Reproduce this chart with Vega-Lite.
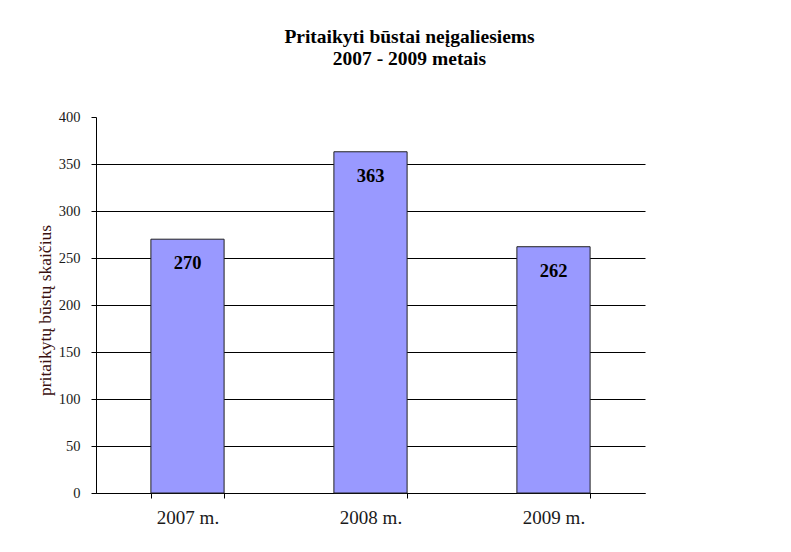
{
  "$schema": "https://vega.github.io/schema/vega-lite/v6.json",
  "width": 549,
  "height": 376,
  "autosize": {"type": "none"},
  "padding": {"left": 96, "top": 117, "right": 146, "bottom": 59},
  "background": "white",
  "config": {
    "view": {"stroke": null},
    "font": "Liberation Serif"
  },
  "title": {
    "text": ["Pritaikyti būstai neįgaliesiems", "2007 - 2009 metais"],
    "font": "Liberation Serif",
    "fontSize": 19.5,
    "fontWeight": "bold",
    "color": "black",
    "anchor": "middle",
    "frame": "group",
    "dx": 39,
    "offset": 40,
    "lineHeight": 22
  },
  "data": {
    "values": [
      {"metai": "2007 m.", "skaicius": 270},
      {"metai": "2008 m.", "skaicius": 363},
      {"metai": "2009 m.", "skaicius": 262}
    ]
  },
  "encoding": {
    "x": {
      "field": "metai",
      "type": "nominal",
      "sort": null,
      "scale": {"paddingInner": 0.6, "paddingOuter": 0.3},
      "axis": {
        "title": null,
        "labelAngle": 0,
        "tickBand": "extent",
        "domainColor": "black",
        "tickColor": "black",
        "tickSize": 5,
        "labelPadding": 10,
        "labelFont": "Liberation Serif",
        "labelFontSize": 19,
        "labelColor": "#1a1a1a"
      }
    },
    "y": {
      "field": "skaicius",
      "type": "quantitative",
      "scale": {"domain": [0, 400], "nice": false},
      "axis": {
        "values": [0, 50, 100, 150, 200, 250, 300, 350, 400],
        "title": "pritaikytų būstų skaičius",
        "titleFont": "Liberation Serif",
        "titleFontSize": 17.5,
        "titleFontWeight": "normal",
        "titleColor": "#3a1010",
        "titleX": -51,
        "titleY": 193,
        "titleAngle": -90,
        "titleAlign": "center",
        "titleBaseline": "middle",
        "grid": true,
        "gridColor": "black",
        "gridWidth": 1,
        "gridOpacity": {"condition": {"test": "datum.value >= 400", "value": 0}, "value": 1},
        "domainColor": "black",
        "tickColor": "black",
        "tickSize": 5,
        "labelPadding": 11,
        "labelFont": "Liberation Serif",
        "labelFontSize": 14.5,
        "labelColor": "#1a1a1a"
      }
    }
  },
  "layer": [
    {
      "mark": {"type": "bar", "fill": "#9999FF", "stroke": "#222222", "strokeWidth": 1}
    },
    {
      "mark": {
        "type": "text",
        "baseline": "middle",
        "dy": 24,
        "font": "Liberation Serif",
        "fontSize": 18.5,
        "fontWeight": "bold",
        "color": "black"
      },
      "encoding": {
        "text": {"field": "skaicius", "type": "quantitative"}
      }
    }
  ]
}
